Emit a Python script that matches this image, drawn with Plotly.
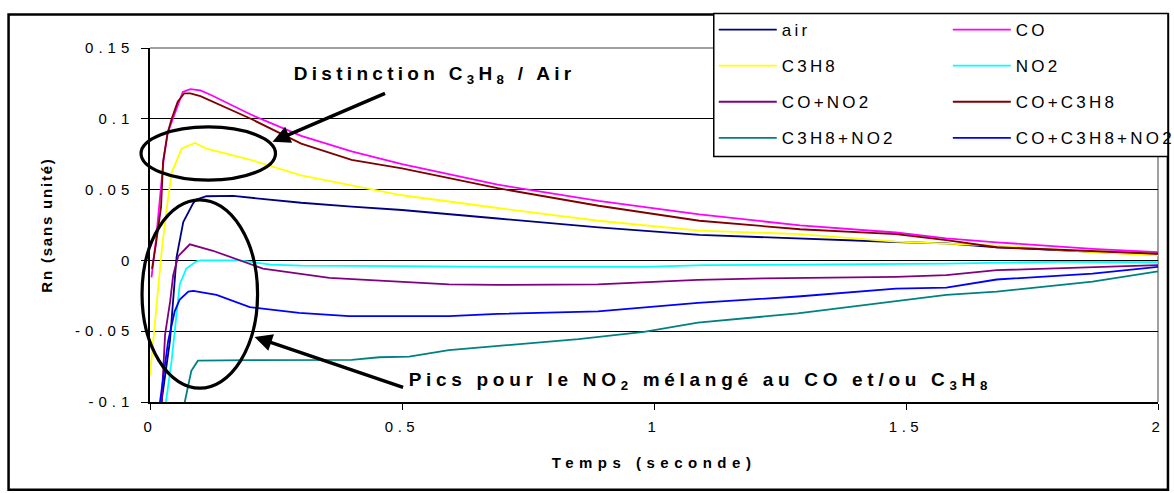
import plotly.graph_objects as go

# ---------------- data ----------------
t_air = [0.022, 0.024, 0.0395, 0.0527, 0.066, 0.085, 0.092, 0.112, 0.165, 0.23, 0.3, 0.4, 0.5,
         0.69, 0.89, 1.09, 1.29, 1.48, 1.58, 1.68, 1.87, 2.0]
air = [-0.11, -0.097, -0.057, 0.0023, 0.027, 0.04, 0.043, 0.0453, 0.0455, 0.043, 0.0407, 0.038, 0.0356,
       0.0296, 0.0233, 0.018, 0.0152, 0.013, 0.012, 0.0093, 0.006, 0.004]

t_co = [0.003, 0.012, 0.02, 0.027, 0.035, 0.046, 0.055, 0.065, 0.08, 0.1, 0.12, 0.2, 0.3, 0.4, 0.5,
        0.69, 0.89, 1.09, 1.29, 1.48, 1.58, 1.68, 1.87, 2.0]
co = [-0.012, 0.015, 0.045, 0.071, 0.09, 0.101, 0.11, 0.119, 0.121, 0.12, 0.117, 0.103, 0.088, 0.077, 0.068,
      0.0535, 0.042, 0.0325, 0.0247, 0.0197, 0.0156, 0.0128, 0.0082, 0.0059]

t_c3h8 = [0.0, 0.013, 0.023, 0.033, 0.043, 0.063, 0.089, 0.112, 0.2, 0.3, 0.4, 0.5,
          0.69, 0.89, 1.09, 1.29, 1.48, 1.58, 1.68, 1.87, 2.0]
c3h8 = [-0.081, -0.029, 0.006, 0.036, 0.062, 0.079, 0.083, 0.079, 0.071, 0.060, 0.053, 0.046,
        0.037, 0.028, 0.021, 0.0186, 0.0133, 0.0121, 0.0105, 0.0058, 0.0036]

t_no2 = [0.03, 0.0316, 0.0428, 0.059, 0.072, 0.092, 0.1, 0.178, 0.24, 0.3, 0.5, 0.69, 0.98, 1.1,
         1.58, 1.8, 2.0]
no2 = [-0.11, -0.1, -0.071, -0.017, -0.0058, -0.0006, 0.0, 0.0, -0.003, -0.0037, -0.004, -0.0046, -0.0046,
       -0.0034, -0.0023, -0.001, -0.0013]

t_co_no2 = [0.021, 0.023, 0.03, 0.04, 0.046, 0.056, 0.069, 0.079, 0.125, 0.178, 0.224, 0.356, 0.593,
            0.69, 0.889, 1.087, 1.219, 1.48, 1.58, 1.68, 1.87, 2.0]
co_no2 = [-0.11, -0.1, -0.052, -0.029, -0.0104, 0.003, 0.0077, 0.0114, 0.0068, -0.0002, -0.0058, -0.0123, -0.0169,
          -0.0173, -0.017, -0.0138, -0.0127, -0.0116, -0.0104, -0.0069, -0.0046, -0.0034]

t_co_c3h8 = [0.004, 0.012, 0.022, 0.026, 0.035, 0.043, 0.055, 0.068, 0.08, 0.1, 0.2, 0.3, 0.4, 0.5,
             0.69, 0.89, 1.09, 1.29, 1.48, 1.58, 1.68, 1.87, 2.0]
co_c3h8 = [-0.006, 0.012, 0.038, 0.07, 0.09, 0.1, 0.112, 0.118, 0.118, 0.116, 0.1, 0.0825, 0.071, 0.065,
           0.051, 0.0386, 0.028, 0.022, 0.0186, 0.0143, 0.0093, 0.0063, 0.0047]

t_c3h8_no2 = [0.066, 0.069, 0.082, 0.095, 0.2, 0.3, 0.4, 0.455, 0.514, 0.593, 0.69, 0.85, 0.98, 1.087,
              1.285, 1.48, 1.58, 1.68, 1.87, 2.0]
c3h8_no2 = [-0.11, -0.1, -0.078, -0.0708, -0.0704, -0.0706, -0.0703, -0.0684, -0.068, -0.0633, -0.0603, -0.0556,
            -0.0505, -0.044, -0.0374, -0.029, -0.0243, -0.022, -0.015, -0.0077]

t_all3 = [0.018, 0.0198, 0.036, 0.049, 0.059, 0.076, 0.086, 0.132, 0.198, 0.296, 0.395, 0.593, 0.69,
          0.889, 1.087, 1.285, 1.48, 1.58, 1.68, 1.87, 2.0]
all3 = [-0.11, -0.1, -0.057, -0.036, -0.0276, -0.022, -0.0215, -0.0243, -0.033, -0.037, -0.0394, -0.0394, -0.0378,
        -0.036, -0.030, -0.0255, -0.020, -0.0192, -0.0135, -0.0093, -0.0046]

series_names = ["air", "CO", "C3H8", "NO2", "CO+NO2", "CO+C3H8", "C3H8+NO2", "CO+C3H8+NO2"]
series_t = [t_air, t_co, t_c3h8, t_no2, t_co_no2, t_co_c3h8, t_c3h8_no2, t_all3]
series_y = [air, co, c3h8, no2, co_no2, co_c3h8, c3h8_no2, all3]
series_colors = ["#000080", "#FF00FF", "#FFFF00", "#00FFFF", "#800080", "#800000", "#008080", "#0000FF"]
series_legend = ["legend", "legend2", "legend", "legend2", "legend", "legend2", "legend", "legend2"]

x_tick_vals = [0, 0.5, 1, 1.5, 2]
x_tick_text = ["0", "0.5", "1", "1.5", "2"]
y_tick_vals = [-0.1, -0.05, 0, 0.05, 0.1, 0.15]
y_tick_text = ["-0.1", "-0.05", "0", "0.05", "0.1", "0.15"]

FONT = "Liberation Sans, Arial, sans-serif"

# ---------------- figure ----------------
fig = go.Figure()
for name, tx, ty, col, lg in zip(series_names, series_t, series_y, series_colors, series_legend):
    fig.add_trace(go.Scatter(x=tx, y=ty, mode="lines", name=name, legend=lg, legendgroup=name,
                             line=dict(color=col, width=1.8)))

W, H = 1174, 493
L, R, T, B = 150, 12, 43, 91
PW, PH = W - L - R, H - T - B


def px_x(p):
    return (p - L) / PW


def px_y(p):
    return (H - B - p) / PH


shapes = [
    # outer chart frame
    dict(type="rect", xref="paper", yref="paper", x0=px_x(8), x1=px_x(1172), y0=px_y(491), y1=px_y(9),
         line=dict(color="black", width=2.5), layer="above"),
    # plot-area border (top/right grey)
    dict(type="line", xref="paper", yref="paper", x0=0, x1=1, y0=1, y1=1,
         line=dict(color="#808080", width=1.5), layer="below"),
    dict(type="line", xref="paper", yref="paper", x0=1, x1=1, y0=0, y1=1,
         line=dict(color="#808080", width=1.5), layer="below"),
    # legend box
    dict(type="rect", xref="paper", yref="paper", x0=px_x(716), x1=px_x(1172), y0=px_y(153), y1=px_y(8),
         line=dict(color="black", width=1.5), fillcolor="white", layer="above"),
    # ellipses
    dict(type="circle", xref="paper", yref="paper", x0=px_x(141), x1=px_x(276), y0=px_y(177), y1=px_y(123),
         line=dict(color="black", width=3.2), layer="above"),
    dict(type="circle", xref="paper", yref="paper", x0=px_x(142), x1=px_x(258), y0=px_y(388), y1=px_y(197),
         line=dict(color="black", width=3.2), layer="above"),
]

annotations = [
    dict(text="Distinction C<sub>3</sub>H<sub>8</sub> / Air", xref="paper", yref="paper",
         x=px_x(436), y=px_y(70), xanchor="center", yanchor="middle", showarrow=False,
         font=dict(family=FONT, size=19, color="black", weight="bold")),
    dict(text="Pics pour le NO<sub>2</sub> mélangé au CO et/ou C<sub>3</sub>H<sub>8</sub>", xref="paper",
         yref="paper", x=px_x(703), y=px_y(381), xanchor="center", yanchor="middle", showarrow=False,
         font=dict(family=FONT, size=19, color="black", weight="bold")),
    dict(text="", xref="paper", yref="paper", x=px_x(273), y=px_y(138), ax=114, ay=-49,
         showarrow=True, arrowhead=2, arrowsize=1.0, arrowwidth=3.5, arrowcolor="black"),
    dict(text="", xref="paper", yref="paper", x=px_x(255), y=px_y(336), ax=150, ay=51,
         showarrow=True, arrowhead=2, arrowsize=1.0, arrowwidth=3.5, arrowcolor="black"),
]

fig.update_layout(
    width=W, height=H, autosize=False,
    margin=dict(l=L, r=R, t=T, b=B),
    paper_bgcolor="white", plot_bgcolor="white",
    font=dict(family=FONT, color="black"),
    shapes=shapes, annotations=annotations,
    legend=dict(x=px_x(716), y=px_y(6.5), xanchor="left", yanchor="top", bgcolor="rgba(0,0,0,0)",
                borderwidth=0, font=dict(family=FONT, size=17, color="black"),
                traceorder="grouped", tracegroupgap=11, itemwidth=58),
    legend2=dict(x=px_x(951), y=px_y(6.5), xanchor="left", yanchor="top", bgcolor="rgba(0,0,0,0)",
                 borderwidth=0, font=dict(family=FONT, size=17, color="black"),
                 traceorder="grouped", tracegroupgap=11, itemwidth=58),
    xaxis=dict(range=[0, 2], tickvals=x_tick_vals, ticktext=x_tick_text, showgrid=False, zeroline=False,
               showline=True, linecolor="black", linewidth=1.5, ticks="outside", ticklen=6,
               tickcolor="black", tickwidth=1.2, ticklabelstandoff=4,
               tickfont=dict(family=FONT, size=15, color="black"),
               title=dict(text="Temps (seconde)", standoff=24,
                          font=dict(family=FONT, size=15, color="black", weight="bold"))),
    yaxis=dict(range=[-0.1, 0.15], tickvals=y_tick_vals, ticktext=y_tick_text, showgrid=True,
               gridcolor="black", gridwidth=1, zeroline=True, zerolinecolor="black", zerolinewidth=1,
               showline=True, linecolor="black", linewidth=1.5, ticks="outside", ticklen=7,
               tickcolor="black", tickwidth=1.2, ticklabelstandoff=4,
               tickfont=dict(family=FONT, size=15, color="black"),
               title=dict(text="Rn (sans unité)", standoff=44,
                          font=dict(family=FONT, size=15, color="black", weight="bold"))),
)

post_js = """
document.body.style.margin = '0';
document.body.style.padding = '0';
var st = document.createElement('style');
st.textContent = [
  '.annotation[data-index="0"] .annotation-text { letter-spacing: 4.3px !important; }',
  '.annotation[data-index="1"] .annotation-text { letter-spacing: 4.7px !important; }',
  '.xtick text { letter-spacing: 4.5px !important; }',
  '.ytick text { letter-spacing: 5px !important; }',
  '.legendtext, .legendtext tspan, .legend text, .legend2 text { letter-spacing: 3.2px !important; }',
  '.g-xtitle text { letter-spacing: 5.5px !important; }',
  '.g-ytitle text { letter-spacing: 1.8px !important; }'
].join('\\n');
document.head.appendChild(st);
var gd = document.getElementById('{plot_id}');
function unclip() {
  document.querySelectorAll('.scrollbox').forEach(function (e) {
    if (e.hasAttribute('clip-path')) { e.removeAttribute('clip-path'); }
  });
}
unclip();
gd.on('plotly_afterplot', unclip);
setTimeout(unclip, 50);
"""

fig.write_html("out.html", post_script=post_js, config={"displayModeBar": False})
